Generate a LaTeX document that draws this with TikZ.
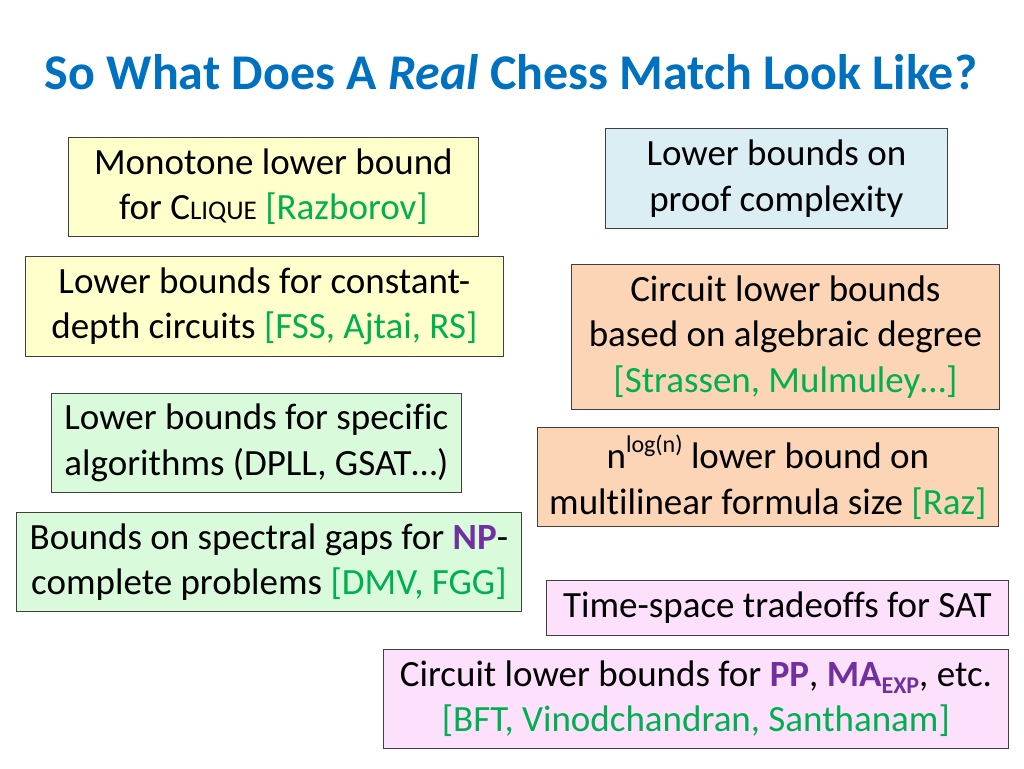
\documentclass[tikz,border=0pt]{standalone}
\usepackage{fontspec}
\setmainfont[Ligatures={NoCommon}]{Carlito}
\usetikzlibrary{positioning}
\definecolor{titleblue}{HTML}{0070C0}
\definecolor{refgreen}{HTML}{00B050}
\definecolor{npurple}{HTML}{7030A0}
\definecolor{fyellow}{HTML}{FFFFCC}
\definecolor{fblue}{HTML}{DAEEF3}
\definecolor{fpeach}{HTML}{FBD5B5}
\definecolor{fgreen}{HTML}{D9FADB}
\definecolor{fpink}{HTML}{FCE0FC}
\newcommand{\rf}[1]{\textcolor{refgreen}{#1}}
\newcommand{\cls}[1]{\textcolor{npurple}{\textbf{#1}}}
\tikzset{
  box/.style={draw=black!75, line width=0.8pt, anchor=north west, align=center,
    inner sep=0pt, font=\fontsize{37}{45.5}\selectfont},
}
\begin{document}
\begin{tikzpicture}[x=1pt,y=-1pt]
\useasboundingbox (0,0) rectangle (1024,768);
\node[font=\fontsize{50}{56}\selectfont\bfseries, text=titleblue, anchor=base] (title) at (511,89)
  {So What Does A \textit{Real} Chess Match Look Like?};
\node[box, fill=fyellow, minimum width=410, minimum height=99] (b1) at (68,137)
  {Monotone lower bound\\ for C{\fontsize{27}{28}\selectfont LIQUE} \rf{[Razborov]}};
\node[box, fill=fyellow, minimum width=478, minimum height=100] (b2) at (25,256)
  {Lower bounds for constant-\\ depth circuits \rf{[FSS, Ajtai, RS]}};
\node[box, fill=fgreen, minimum width=410, minimum height=99] (b3) at (51,393)
  {Lower bounds for specific\\ algorithms (DPLL, GSAT…)};
\node[box, fill=fgreen, minimum width=505, minimum height=99] (b4) at (16,512)
  {Bounds on spectral gaps for \cls{NP}-\\ complete problems \rf{[DMV, FGG]}};
\node[box, fill=fblue, minimum width=342, minimum height=100] (b5) at (605,128)
  {Lower bounds on\\ proof complexity};
\node[box, fill=fpeach, minimum width=428, minimum height=145] (b6) at (571,264)
  {Circuit lower bounds\\ based on algebraic degree\\ \rf{[Strassen, Mulmuley…]}};
\node[box, fill=fpeach, minimum width=461, minimum height=99] (b7) at (537,427)
  {n\raisebox{0.45em}{\fontsize{24}{25}\selectfont log(n)} lower bound on\\ multilinear formula size \rf{[Raz]}};
\node[box, fill=fpink, minimum width=462, minimum height=55] (b8) at (546,580)
  {Time-space tradeoffs for SAT};
\node[box, fill=fpink, minimum width=625, minimum height=99] (b9) at (383,649)
  {Circuit lower bounds for \cls{PP}, \cls{MA}\raisebox{-0.2em}{\fontsize{24}{25}\selectfont\cls{EXP}}, etc.\\ \rf{[BFT, Vinodchandran, Santhanam]}};
\end{tikzpicture}
\end{document}
